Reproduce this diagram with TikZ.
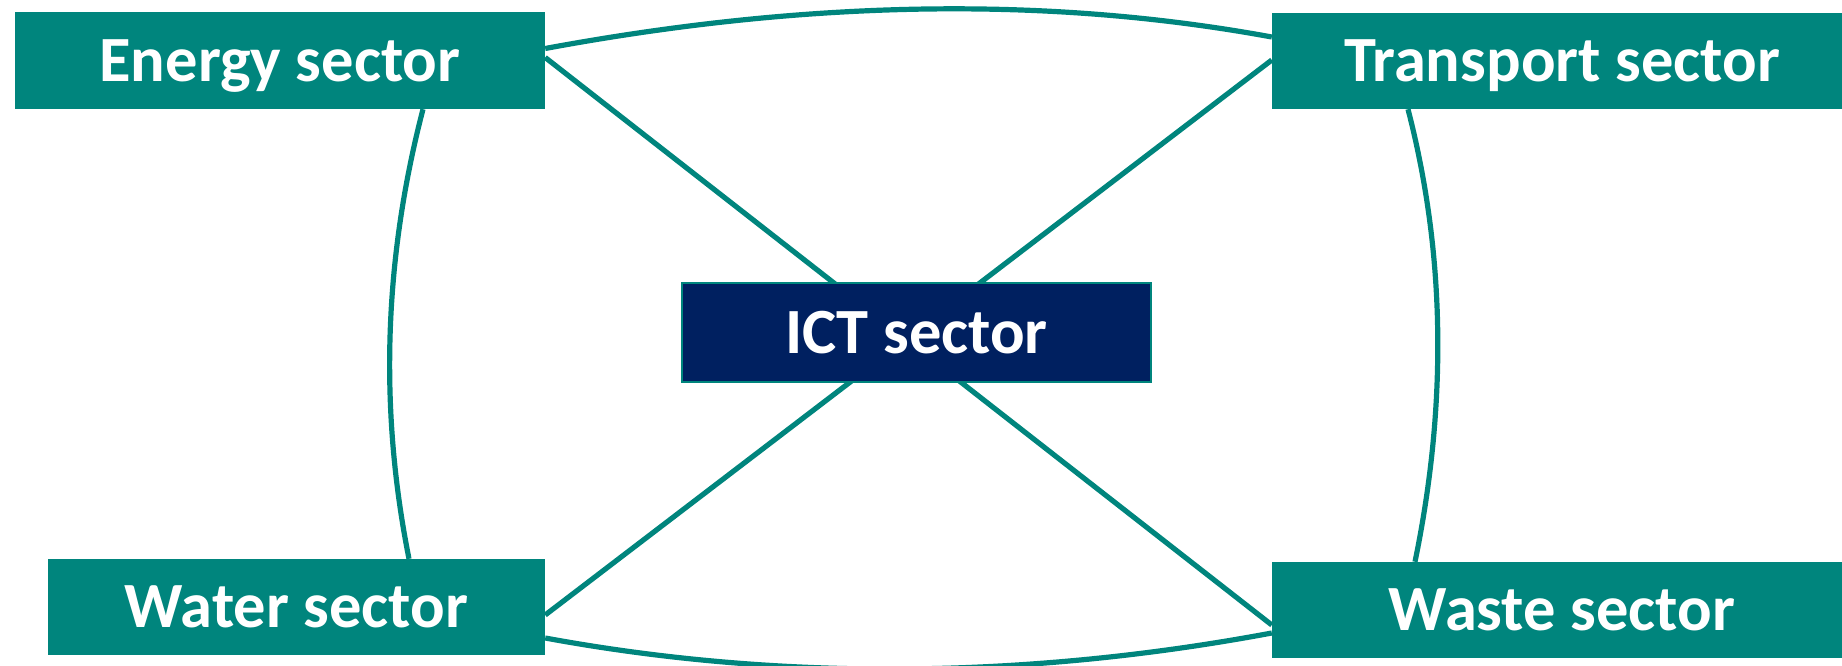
\documentclass[tikz,border=0pt]{standalone}
\usepackage{fontspec}
\setmainfont{Carlito}
\usetikzlibrary{backgrounds}
\definecolor{sectorteal}{RGB}{0,133,125}
\definecolor{ictnavy}{RGB}{0,32,96}
\begin{document}
\begin{tikzpicture}[x=1pt,y=1pt,
  sectorbox/.style={fill=sectorteal, text=white,
    font=\bfseries\fontsize{64.5}{64.5}\selectfont,
    text height=41.5pt, text depth=0pt, inner sep=0pt, anchor=center},
  ictbox/.style={sectorbox, fill=ictnavy, draw=sectorteal, line width=1.5pt},
  link/.style={draw=sectorteal, line width=5.2pt}]
\clip (0,0) rectangle (1842,665);

% sector boxes
\node[sectorbox, minimum width=530pt, minimum height=97pt] (energy) at (280,604.5) {Energy sector};
\node[sectorbox, minimum width=580pt, minimum height=96pt] (transport) at (1562,604) {Transport sector};
\node[sectorbox, minimum width=497pt, minimum height=96pt] (water) at (296.5,58) {Water sector};
\node[sectorbox, minimum width=580pt, minimum height=96pt] (waste) at (1562,55) {Waste sector};
\node[ictbox, minimum width=469pt, minimum height=99pt] (ict) at (916.5,332.5) {ICT sector};

\begin{pgfonlayer}{background}
  % diagonal links crossing behind the ICT box
  \draw[link] ([yshift=3pt]energy.east) -- ([yshift=-15pt]waste.west);
  \draw[link] ([yshift=1pt]transport.west) -- ([yshift=-8pt]water.east);
  % outer ring of curved links
  \draw[link] ([yshift=12pt]energy.east) .. controls +(270,50) and +(-218,40) .. ([yshift=24pt]transport.west);
  \draw[link] ([yshift=-31pt]water.east) .. controls +(250,-46) and +(-230,-43) .. ([yshift=-23pt]waste.west);
  \draw[link] ([xshift=143pt]energy.south) .. controls +(-39,-150) and +(-30,150) .. ([xshift=112.5pt]water.north);
  \draw[link] ([xshift=-154pt]transport.south) .. controls +(39,-151) and +(31,151) .. ([xshift=-147pt]waste.north);
\end{pgfonlayer}
\end{tikzpicture}
\end{document}
